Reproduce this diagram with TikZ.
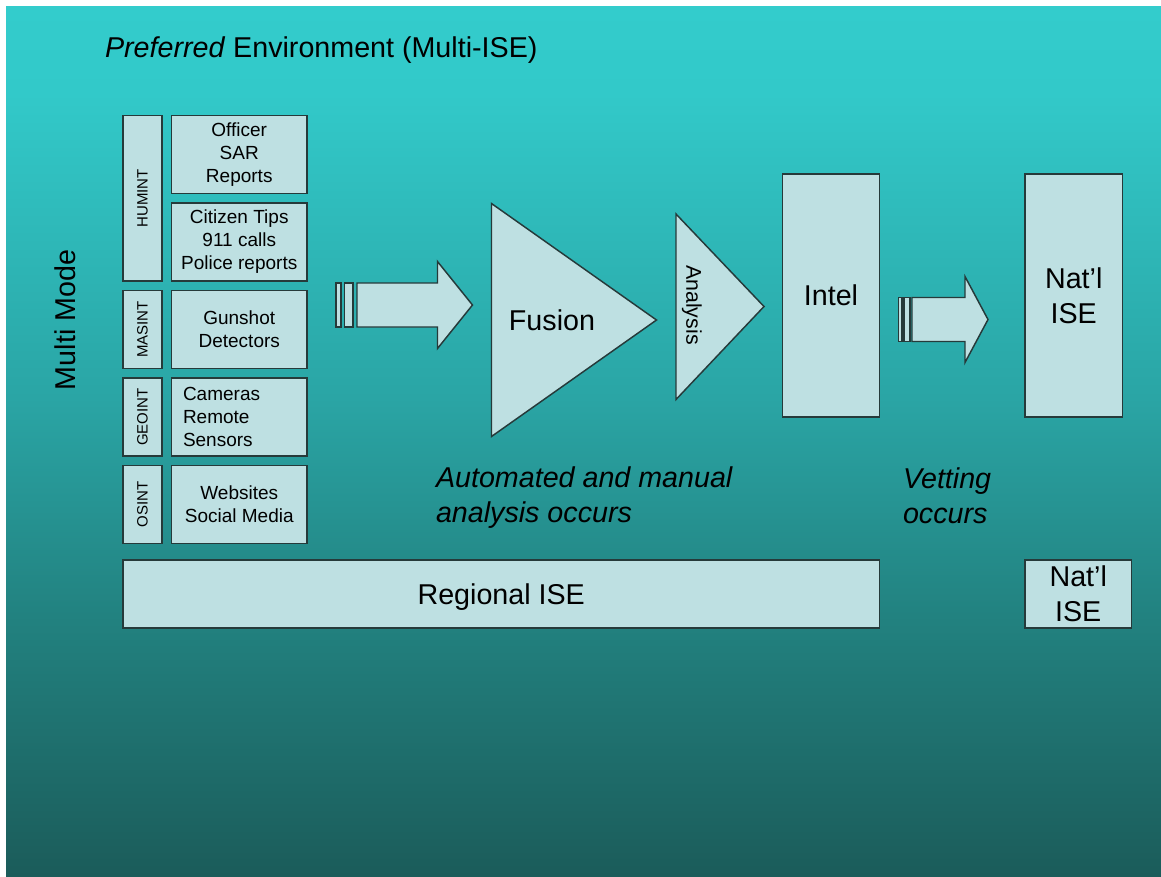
\documentclass[tikz,border=0pt]{standalone}
\usepackage{fontspec}
\setmainfont{Liberation Sans}
\definecolor{boxfill}{RGB}{190,224,226}
\definecolor{edge}{RGB}{38,58,58}
\definecolor{bgA}{RGB}{51,204,204}
\definecolor{bgB}{RGB}{50,201,201}
\definecolor{bgC}{RGB}{42,165,165}
\definecolor{bgD}{RGB}{34,130,128}
\definecolor{bgE}{RGB}{27,92,90}
\pgfdeclareverticalshading{bgshade}{100bp}{color(0bp)=(bgE); color(25bp)=(bgE); color(40bp)=(bgD); color(52.5bp)=(bgC); color(70bp)=(bgB); color(75bp)=(bgA); color(100bp)=(bgA)}
\begin{document}
\begin{tikzpicture}[x=0.75pt,y=-0.75pt,
  shp/.style={draw=edge, fill=boxfill, line width=1.1pt},
  box/.style={shp, inner sep=0pt, outer sep=0pt, align=center, text=black},
  bigf/.style={font=\fontsize{21.5}{26.25}\selectfont},
  midf/.style={font=\fontsize{14.25}{17.25}\selectfont},
  stripf/.style={font=\fontsize{11.25}{13}\selectfont},
  lbl/.style={inner sep=0pt, outer sep=0pt, text=black}]
\useasboundingbox (0,0) rectangle (1161,876);
\fill[white] (0,0) rectangle (1161,876);
\shade[shading=bgshade] (6,6) rectangle (1161,876);

% title and side label
\node[lbl, bigf, anchor=west] (title) at (105,50) {\textit{Preferred} Environment (Multi-ISE)};
\node[lbl, rotate=90, bigf] (multimode) at (65,320) {Multi Mode};

% strips
\node[box, stripf, rotate=90, minimum width=165.5*0.75pt, minimum height=39*0.75pt] (humint) at (142.5,198.25) {HUMINT};
\node[box, stripf, rotate=90, minimum width=78*0.75pt, minimum height=39*0.75pt] (masint) at (142.5,329.5) {MASINT};
\node[box, stripf, rotate=90, minimum width=78*0.75pt, minimum height=39*0.75pt] (geoint) at (142.5,417) {GEOINT};
\node[box, stripf, rotate=90, minimum width=78*0.75pt, minimum height=39*0.75pt] (osint) at (142.5,504.5) {OSINT};

% source boxes
\node[box, midf, minimum width=135.5*0.75pt, minimum height=78*0.75pt] (officer) at (239.25,154.5) {Officer\\SAR\\Reports};
\node[box, midf, minimum width=135.5*0.75pt, minimum height=78*0.75pt] (citizen) at (239.25,242) {Citizen Tips\\911 calls\\Police reports};
\node[box, midf, minimum width=135.5*0.75pt, minimum height=78*0.75pt] (gunshot) at (239.25,329.5) {Gunshot\\Detectors};
\node[box, midf, minimum width=135.5*0.75pt, minimum height=78*0.75pt] (cameras) at (239.25,417) {};
\node[lbl, midf, align=left, anchor=west] (cameratext) at (183,417) {Cameras\\Remote\\Sensors};
\node[box, midf, minimum width=135.5*0.75pt, minimum height=78*0.75pt] (websites) at (239.25,504.5) {Websites\\Social Media};

% block arrow 1
\draw[shp] (336,283) rectangle (341,327);
\draw[shp] (344.5,283) rectangle (353,327);
\draw[shp] (357,283) -- (437.5,283) -- (437.5,261.5) -- (472.5,305) -- (437.5,348.5) -- (437.5,327) -- (357,327) -- cycle;

% triangles
\draw[shp] (491.5,203.5) -- (656.5,320) -- (491.5,436.5) -- cycle;
\node[lbl, bigf] (fusion) at (552,320) {Fusion};
\draw[shp] (676,214) -- (764,306.5) -- (676,399.5) -- cycle;
\node[lbl, rotate=-90, font=\fontsize{16}{19}\selectfont] (analysis) at (692,305) {Analysis};

% intel and national
\node[box, bigf, minimum width=97*0.75pt, minimum height=243*0.75pt] (intel) at (831,295.5) {Intel};
\node[box, bigf, minimum width=97.5*0.75pt, minimum height=243*0.75pt] (natl) at (1073.75,295.5) {Nat’l\\ISE};

% block arrow 2
\draw[shp] (898.5,297.5) rectangle (902,341.5);
\draw[shp] (904,297.5) rectangle (910,341.5);
\draw[shp] (912,297.5) -- (965,297.5) -- (965,276.5) -- (988,319.5) -- (965,362.5) -- (965,341.5) -- (912,341.5) -- cycle;

% notes
\node[lbl, bigf, align=left, anchor=west] (auto) at (436,498) {\textit{Automated and manual}\\\textit{analysis occurs}};
\node[lbl, bigf, align=left, anchor=west] (vet) at (903,496) {\textit{Vetting}\\\textit{occurs}};

% bottom bars
\node[box, bigf, text depth=0pt, minimum width=756.5*0.75pt, minimum height=68*0.75pt] (regional) at (501.25,594) {Regional ISE};
\node[box, bigf, minimum width=106.5*0.75pt, minimum height=68*0.75pt] (natlsmall) at (1078.25,594) {Nat’l\\ISE};
\end{tikzpicture}
\end{document}
